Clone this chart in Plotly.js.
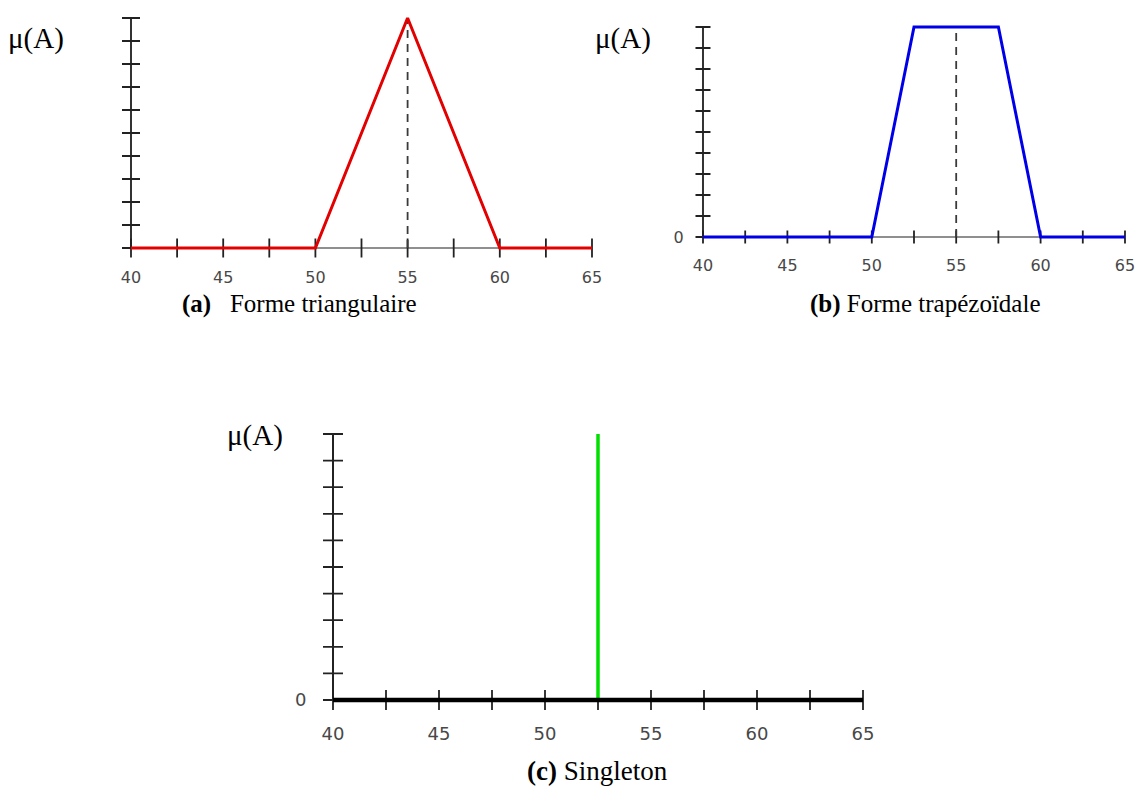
<!DOCTYPE html>
<html>
<head>
<meta charset="utf-8">
<script src="https://cdn.plot.ly/plotly-3.0.1.min.js"></script>
<style>html,body{margin:0;padding:0;background:#fff;}#chart{width:1135px;height:789px;}</style>
</head>
<body>
<div id="chart"></div>
<script>
// ---- data ----
const xTickVals = [40, 42.5, 45, 47.5, 50, 52.5, 55, 57.5, 60, 62.5, 65];
const xTickText = ['40', '', '45', '', '50', '', '55', '', '60', '', '65'];
const yTickVals = [0, 0.1, 0.2, 0.3, 0.4, 0.5, 0.6, 0.7, 0.8, 0.9, 1];
const yTickTextA = ['', '', '', '', '', '', '', '', '', '', ''];
const yTickTextB = ['0', '', '', '', '', '', '', '', '', '', ''];
const yTickTextC = ['0', '', '', '', '', '', '', '', '', '', ''];

const triX = [40, 50, 55, 60, 65];
const triY = [0, 0, 1, 0, 0];
const trapX = [40, 50, 52.5, 57.5, 60, 65];
const trapY = [0, 0, 1, 1, 0, 0];
const singX = [52.5, 52.5];
const singY = [0, 1];
const baseX = [40, 65];
const baseY = [0, 0];
const centerA = [55, 55];
const centerAY = [0, 1];
const centerB = [55, 55];
const centerBY = [0, 1];

const xMin = 40, xMax = 65, yMin = 0, yMax = 1;
const captionA = '<b>(a)</b>\u00a0\u00a0 Forme triangulaire';
const captionB = '<b>(b)</b> Forme trapézoïdale';
const captionC = '<b>(c)</b> Singleton';
const muLabel = 'μ(A)';

// ---- layout geometry (pixels) ----
const W = 1135, H = 789;
const XR = [39.45, 65.55], YR = [-0.08, 1.06];
const panels = [
  {id: '', x40: 131, x65: 592, y0: 248, y1: 18, xt: 9.5, yt: 9, ytext: yTickTextA, stand: 0, fs: 16, xaxisCol: '#6a6a6a', yaxisCol: '#333'},
  {id: '2', x40: 703, x65: 1125, y0: 237, y1: 27, xt: 6.5, yt: 7.5, ytext: yTickTextB, stand: 9, fs: 16, xaxisCol: '#6a6a6a', yaxisCol: '#333'},
  {id: '3', x40: 333, x65: 863, y0: 700, y1: 434, xt: 10, yt: 10, ytext: yTickTextC, stand: 14, fs: 18, xaxisCol: '#111', yaxisCol: '#222'}
];

const layout = {
  width: W, height: H, autosize: false,
  margin: {l: 0, r: 0, t: 0, b: 0, pad: 0},
  paper_bgcolor: '#fff', plot_bgcolor: 'rgba(0,0,0,0)',
  showlegend: false,
  shapes: [], annotations: []
};

panels.forEach(p => {
  const k = (p.x65 - p.x40) / (xMax - xMin);
  const m = (p.y0 - p.y1) / (yMax - yMin);
  const left = p.x40 - (xMin - XR[0]) * k;
  const right = p.x65 + (XR[1] - xMax) * k;
  const bottom = p.y0 + (yMin - YR[0]) * m;
  const top = p.y1 - (YR[1] - yMax) * m;
  const xa = 'xaxis' + p.id, ya = 'yaxis' + p.id;
  const xr = 'x' + p.id, yr = 'y' + p.id;
  const tf = {family: 'DejaVu Sans, sans-serif', size: p.fs, color: '#484848'};
  layout[xa] = {
    domain: [left / W, Math.min(right / W, 1)], range: XR, anchor: yr,
    showgrid: false, zeroline: false, showline: false, ticks: '',
    tickmode: 'array', tickvals: xTickVals, ticktext: xTickText,
    ticklabeloverflow: 'allow',
    tickfont: tf, fixedrange: true
  };
  layout[ya] = {
    domain: [1 - bottom / H, 1 - top / H], range: YR, anchor: xr,
    showgrid: false, zeroline: false, showline: false, ticks: '',
    tickmode: 'array', tickvals: yTickVals, ticktext: p.ytext,
    ticklabelstandoff: p.stand, ticklabeloverflow: 'allow',
    tickfont: tf, fixedrange: true
  };
  // axis lines
  layout.shapes.push({type: 'line', layer: 'below', xref: xr, yref: yr, x0: xMin, x1: xMax, y0: yMin, y1: yMin,
    line: {color: p.xaxisCol, width: 1.6}});
  layout.shapes.push({type: 'line', layer: 'below', xref: xr, yref: yr, x0: xMin, x1: xMin, y0: yMin, y1: yMax,
    line: {color: p.yaxisCol, width: 2}});
  // crossing ticks
  xTickVals.forEach(v => {
    layout.shapes.push({type: 'line', layer: 'below', xref: xr, yref: yr, ysizemode: 'pixel', yanchor: yMin,
      x0: v, x1: v, y0: -p.xt, y1: p.xt, line: {color: '#222', width: 1.8}});
  });
  yTickVals.forEach(v => {
    layout.shapes.push({type: 'line', layer: 'below', xref: xr, yref: yr, xsizemode: 'pixel', xanchor: xMin,
      x0: -p.yt, x1: p.yt, y0: v, y1: v, line: {color: '#222', width: 1.8}});
  });
});

const serif = 'Liberation Serif, Times New Roman, serif';
function ann(text, px, py, size, xanchor) {
  layout.annotations.push({text: text, xref: 'paper', yref: 'paper', x: px / W, y: 1 - py / H,
    xanchor: xanchor || 'center', yanchor: 'middle', showarrow: false,
    font: {family: serif, size: size, color: '#000'}});
}
ann(muLabel, 6, 39, 29, 'left');
ann(muLabel, 593, 39, 29, 'left');
ann(muLabel, 225, 435, 29, 'left');
ann(captionA, 299, 304, 25);
ann(captionB, 925, 304, 25);
ann(captionC, 597, 771, 27);

const dash = '8px,6px';
const data = [
  {x: centerA, y: centerAY, xaxis: 'x', yaxis: 'y', mode: 'lines', line: {color: '#3a3a3a', width: 1.8, dash: dash}, hoverinfo: 'skip'},
  {x: triX, y: triY, xaxis: 'x', yaxis: 'y', mode: 'lines', line: {color: '#e30000', width: 3}},
  {x: centerB, y: centerBY, xaxis: 'x2', yaxis: 'y2', mode: 'lines', line: {color: '#3a3a3a', width: 1.8, dash: dash}, hoverinfo: 'skip'},
  {x: trapX, y: trapY, xaxis: 'x2', yaxis: 'y2', mode: 'lines', line: {color: '#0000e8', width: 3}},
  {x: singX, y: singY, xaxis: 'x3', yaxis: 'y3', mode: 'lines', line: {color: '#00e000', width: 3.5}},
  {x: baseX, y: baseY, xaxis: 'x3', yaxis: 'y3', mode: 'lines', line: {color: '#000', width: 4.5}}
];

Plotly.newPlot('chart', data, layout, {staticPlot: true, displayModeBar: false});
</script>
</body>
</html>
